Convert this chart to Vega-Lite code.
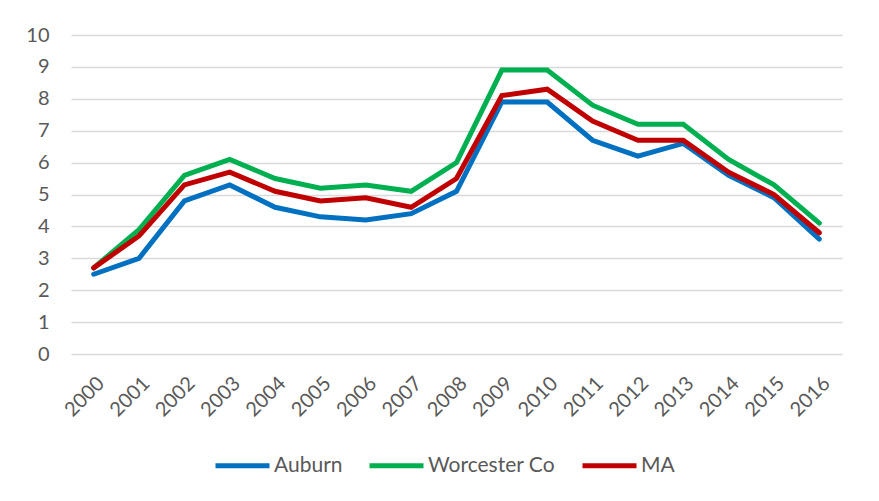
{
  "$schema": "https://vega.github.io/schema/vega-lite/v6.json",
  "autosize": "none",
  "width": 771,
  "height": 319,
  "padding": {"left": 71, "top": 35, "right": 37, "bottom": 147},
  "background": "white",
  "config": {
    "view": {"stroke": null},
    "font": "Lato",
    "axis": {"labelFont": "Lato", "labelColor": "#595959", "labelFontSize": 20}
  },
  "data": {
    "values": [
      {"year": "2000", "series": "Auburn", "value": 2.5},
      {"year": "2001", "series": "Auburn", "value": 3.0},
      {"year": "2002", "series": "Auburn", "value": 4.8},
      {"year": "2003", "series": "Auburn", "value": 5.3},
      {"year": "2004", "series": "Auburn", "value": 4.6},
      {"year": "2005", "series": "Auburn", "value": 4.3},
      {"year": "2006", "series": "Auburn", "value": 4.2},
      {"year": "2007", "series": "Auburn", "value": 4.4},
      {"year": "2008", "series": "Auburn", "value": 5.1},
      {"year": "2009", "series": "Auburn", "value": 7.9},
      {"year": "2010", "series": "Auburn", "value": 7.9},
      {"year": "2011", "series": "Auburn", "value": 6.7},
      {"year": "2012", "series": "Auburn", "value": 6.2},
      {"year": "2013", "series": "Auburn", "value": 6.6},
      {"year": "2014", "series": "Auburn", "value": 5.6},
      {"year": "2015", "series": "Auburn", "value": 4.9},
      {"year": "2016", "series": "Auburn", "value": 3.6},
      {"year": "2000", "series": "Worcester Co", "value": 2.7},
      {"year": "2001", "series": "Worcester Co", "value": 3.9},
      {"year": "2002", "series": "Worcester Co", "value": 5.6},
      {"year": "2003", "series": "Worcester Co", "value": 6.1},
      {"year": "2004", "series": "Worcester Co", "value": 5.5},
      {"year": "2005", "series": "Worcester Co", "value": 5.2},
      {"year": "2006", "series": "Worcester Co", "value": 5.3},
      {"year": "2007", "series": "Worcester Co", "value": 5.1},
      {"year": "2008", "series": "Worcester Co", "value": 6.0},
      {"year": "2009", "series": "Worcester Co", "value": 8.9},
      {"year": "2010", "series": "Worcester Co", "value": 8.9},
      {"year": "2011", "series": "Worcester Co", "value": 7.8},
      {"year": "2012", "series": "Worcester Co", "value": 7.2},
      {"year": "2013", "series": "Worcester Co", "value": 7.2},
      {"year": "2014", "series": "Worcester Co", "value": 6.1},
      {"year": "2015", "series": "Worcester Co", "value": 5.3},
      {"year": "2016", "series": "Worcester Co", "value": 4.1},
      {"year": "2000", "series": "MA", "value": 2.7},
      {"year": "2001", "series": "MA", "value": 3.7},
      {"year": "2002", "series": "MA", "value": 5.3},
      {"year": "2003", "series": "MA", "value": 5.7},
      {"year": "2004", "series": "MA", "value": 5.1},
      {"year": "2005", "series": "MA", "value": 4.8},
      {"year": "2006", "series": "MA", "value": 4.9},
      {"year": "2007", "series": "MA", "value": 4.6},
      {"year": "2008", "series": "MA", "value": 5.5},
      {"year": "2009", "series": "MA", "value": 8.1},
      {"year": "2010", "series": "MA", "value": 8.3},
      {"year": "2011", "series": "MA", "value": 7.3},
      {"year": "2012", "series": "MA", "value": 6.7},
      {"year": "2013", "series": "MA", "value": 6.7},
      {"year": "2014", "series": "MA", "value": 5.7},
      {"year": "2015", "series": "MA", "value": 5.0},
      {"year": "2016", "series": "MA", "value": 3.8}
    ]
  },
  "mark": {"type": "line", "strokeWidth": 5, "strokeJoin": "miter", "strokeCap": "round"},
  "encoding": {
    "x": {
      "field": "year", "type": "ordinal",
      "scale": {"type": "point", "padding": 0.5},
      "axis": {"title": null, "labelAngle": -45, "domain": false, "ticks": false, "labelPadding": 19, "labelFontSize": 20}
    },
    "y": {
      "field": "value", "type": "quantitative",
      "scale": {"domain": [0, 10], "nice": false},
      "axis": {"title": null, "values": [0,1,2,3,4,5,6,7,8,9,10], "domain": false, "ticks": false, "labelPadding": 22, "gridColor": "#D9D9D9", "gridWidth": 1.5}
    },
    "color": {
      "field": "series", "type": "nominal",
      "scale": {"domain": ["Auburn", "Worcester Co", "MA"], "range": ["#0070C0", "#00B050", "#C00000"]},
      "legend": {
        "title": null, "orient": "none", "direction": "horizontal",
        "legendX": 142, "legendY": 401,
        "symbolType": "stroke", "symbolStrokeWidth": 5, "symbolSize": 2916,
        "labelFontSize": 21, "labelColor": "#595959", "labelFont": "Lato",
        "columnPadding": 16, "labelOffset": 2
      }
    }
  }
}
